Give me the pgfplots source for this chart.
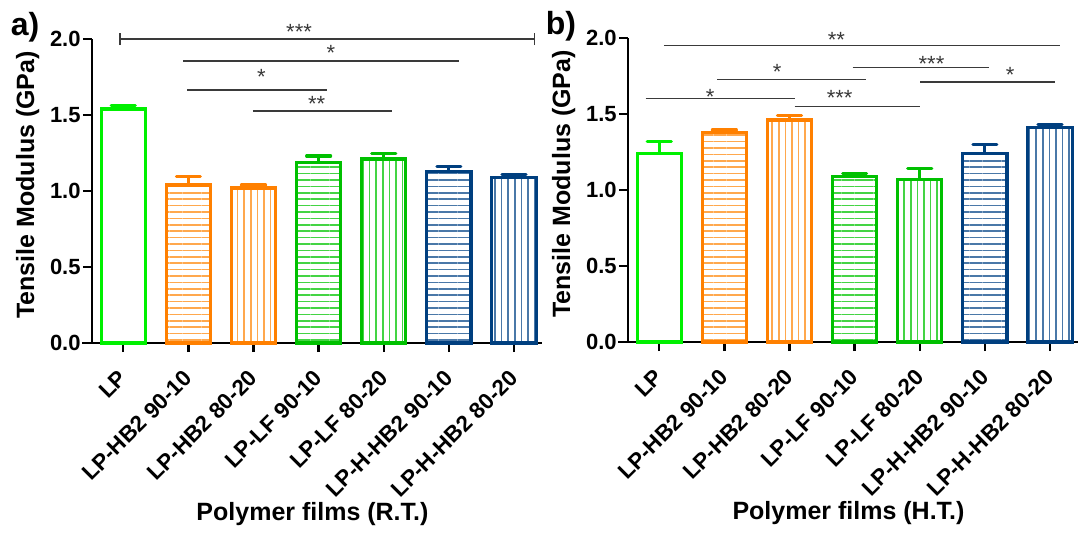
\documentclass[border=0pt]{standalone}
\usepackage{fontspec}
\setmainfont{Liberation Sans}
\usepackage{pgfplots}
\pgfplotsset{compat=1.18}
\usetikzlibrary{patterns.meta}

\definecolor{lpgreen}{HTML}{00F000}
\definecolor{hborange}{HTML}{FF8000}
\definecolor{hborangelt}{HTML}{FFA84D}
\definecolor{lfgreen}{HTML}{00C000}
\definecolor{lfgreenlt}{HTML}{44D444}
\definecolor{hhblue}{HTML}{003F7F}
\definecolor{hhbluelt}{HTML}{4A78A8}
\definecolor{sigline}{HTML}{3A3A3A}

\tikzset{
  sig/.style={sigline, line width=0.6pt},
  star/.style={anchor=base, inner sep=0pt, text=sigline, font=\fontsize{11}{13}\selectfont},
}

\pgfplotsset{
  tmaxis/.style={
    scale only axis, width=225pt, height=152pt,
    xmin=-0.48, xmax=6.43, ymin=0, ymax=2,
    axis x line*=bottom, axis y line*=left,
    axis line style={-, line width=1.2pt, black},
    every outer x axis line/.append style={-},
    every outer y axis line/.append style={-},
    tick style={line width=1.2pt, black},
    major tick length=4.5pt, tick align=outside,
    xtick={0,...,6},
    xticklabels={LP, LP-HB2 90-10, LP-HB2 80-20, LP-LF 90-10, LP-LF 80-20, LP-H-HB2 90-10, LP-H-HB2 80-20},
    xticklabel style={rotate=45, anchor=east, inner sep=0pt,
      font=\fontsize{11.2}{13}\selectfont\bfseries},
    xticklabel shift=11pt,
    ytick={0,0.5,1,1.5,2},
    yticklabels={0.0,0.5,1.0,1.5,2.0},
    yticklabel style={inner sep=1pt, font=\fontsize{11}{13}\selectfont\bfseries},
    ylabel={Tensile Modulus (GPa)},
    ylabel style={at={(axis description cs:-0.143,0.52)}, anchor=center,
      font=\fontsize{12.5}{15}\selectfont\bfseries},
    xlabel style={at={(axis description cs:0.49,0)}, anchor=center, yshift=-85.5pt,
      font=\fontsize{12.5}{15}\selectfont\bfseries},
    clip=false,
  },
  tmbar/.style={ybar, bar width=0.68, bar shift=0pt, line width=1.6pt, draw=#1,
    error bars/y dir=plus, error bars/y explicit, error bars/error mark=-,
    error bars/error bar style={line width=1.6pt, color=#1},
    error bars/error mark options={rotate=90, line width=1.6pt, mark size=6pt, color=#1, line cap=round}},
  hlines/.style={pattern={Lines[angle=0, distance=3.2pt, line width=0.8pt]}, pattern color=#1},
  vlines/.style={pattern={Lines[angle=90, distance=3.3pt, line width=0.8pt]}, pattern color=#1},
}

\begin{document}
\begin{tikzpicture}
\path[use as bounding box] (-46pt,-94.5pt) rectangle (494.5pt,171.5pt);

% (a) room temperature
\begin{axis}[tmaxis, at={(0pt,0pt)}, anchor=south west, xlabel={Polymer films (R.T.)}]
\addplot[tmbar=lpgreen, fill=white] coordinates {(0,1.54) +- (0,0.02)};
\addplot[tmbar=hborange, hlines=hborangelt] coordinates {(1,1.04) +- (0,0.055)};
\addplot[tmbar=hborange, vlines=hborangelt] coordinates {(2,1.02) +- (0,0.02)};
\addplot[tmbar=lfgreen, hlines=lfgreenlt] coordinates {(3,1.19) +- (0,0.04)};
\addplot[tmbar=lfgreen, vlines=lfgreenlt] coordinates {(4,1.21) +- (0,0.035)};
\addplot[tmbar=hhblue, hlines=hhbluelt] coordinates {(5,1.13) +- (0,0.03)};
\addplot[tmbar=hhblue, vlines=hhbluelt] coordinates {(6,1.09) +- (0,0.02)};

% x axis runs a little past the y axis
\draw[line width=1.2pt] (axis cs:-0.48,0) -- (axis cs:-0.635,0);

\draw[sig] (axis cs:-0.05,2.0) -- (axis cs:6.32,2.0);
\draw[sig] (axis cs:-0.05,1.96) -- (axis cs:-0.05,2.04);
\draw[sig] (axis cs:6.32,1.96) -- (axis cs:6.32,2.04);
\node[star] at (axis cs:2.70,2.0) {***};
\draw[sig] (axis cs:0.92,1.855) -- (axis cs:5.16,1.855);
\node[star] at (axis cs:3.19,1.857) {*};
\draw[sig] (axis cs:0.98,1.664) -- (axis cs:3.13,1.664);
\node[star] at (axis cs:2.12,1.70) {*};
\draw[sig] (axis cs:1.99,1.526) -- (axis cs:4.13,1.526);
\node[star] at (axis cs:2.97,1.52) {**};

\node[font=\fontsize{16}{19}\selectfont\bfseries, xshift=-33.5pt, yshift=6pt] at (rel axis cs:0,1) {a)};
\end{axis}

% (b) heat treated
\begin{axis}[tmaxis, at={(268pt,0.5pt)}, anchor=south west, xlabel={Polymer films (H.T.)}]
\addplot[tmbar=lpgreen, fill=white] coordinates {(0,1.24) +- (0,0.08)};
\addplot[tmbar=hborange, hlines=hborangelt] coordinates {(1,1.38) +- (0,0.015)};
\addplot[tmbar=hborange, vlines=hborangelt] coordinates {(2,1.46) +- (0,0.03)};
\addplot[tmbar=lfgreen, hlines=lfgreenlt] coordinates {(3,1.09) +- (0,0.02)};
\addplot[tmbar=lfgreen, vlines=lfgreenlt] coordinates {(4,1.07) +- (0,0.07)};
\addplot[tmbar=hhblue, hlines=hhbluelt] coordinates {(5,1.24) +- (0,0.06)};
\addplot[tmbar=hhblue, vlines=hhbluelt] coordinates {(6,1.41) +- (0,0.02)};

\draw[line width=1.2pt] (axis cs:-0.48,0) -- (axis cs:-0.635,0);

\draw[sig] (axis cs:0.07,1.95) -- (axis cs:6.15,1.95);
\node[star] at (axis cs:2.72,1.94) {**};
\draw[sig] (axis cs:2.97,1.807) -- (axis cs:5.06,1.807);
\node[star] at (axis cs:4.18,1.78) {***};
\draw[sig] (axis cs:0.89,1.728) -- (axis cs:3.18,1.728);
\node[star] at (axis cs:1.81,1.73) {*};
\draw[sig] (axis cs:4.01,1.71) -- (axis cs:6.07,1.71);
\node[star] at (axis cs:5.39,1.71) {*};
\draw[sig] (axis cs:-0.21,1.60) -- (axis cs:2.08,1.60);
\node[star] at (axis cs:0.78,1.565) {*};
\draw[sig] (axis cs:2.08,1.548) -- (axis cs:4.0,1.548);
\node[star] at (axis cs:2.77,1.553) {***};

\node[font=\fontsize{16}{19}\selectfont\bfseries, xshift=-33.5pt, yshift=6pt] at (rel axis cs:0,1) {b)};
\end{axis}
\end{tikzpicture}
\end{document}
